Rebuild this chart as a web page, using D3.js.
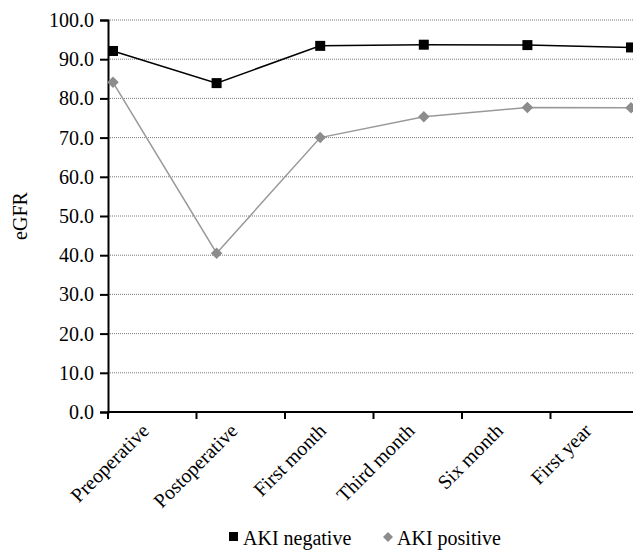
<!DOCTYPE html>
<html lang="en">
<head>
<meta charset="utf-8">
<title>eGFR chart</title>
<script src="https://d3js.org/d3.v7.min.js"></script>
<style>
  body { margin: 0; background: #fff; }
  svg { display: block; }
  svg text { font-family: "Times New Roman", "Liberation Serif", Tinos, "DejaVu Serif", serif; }
</style>
</head>
<body>
<script>
const categories = ["Preoperative", "Postoperative", "First month", "Third month", "Six month", "First year"];
const akiNegative = [92.1, 83.9, 93.4, 93.7, 93.6, 93.0];
const akiPositive = [84.1, 40.5, 70.0, 75.3, 77.7, 77.6];
const yTicks = [0, 10, 20, 30, 40, 50, 60, 70, 80, 90, 100];

const W = 633, H = 552;
const fs = 20;
const svg = d3.select("body").append("svg").attr("width", W).attr("height", H);

const plotLeft = 108, plotTop = 20, plotBottom = 412;

const y = d3.scaleLinear().domain([0, 100]).range([plotBottom, plotTop]);
// category bands (ticks + labels) and the marker positions
const xBand = d3.scaleBand().domain(categories).range([plotLeft, plotLeft + 6 * 88.5]);
const xPt = d3.scalePoint().domain(categories).range([113, 631]);

// gridlines
svg.append("g").selectAll("line")
  .data(yTicks.filter(d => d > 0))
  .join("line")
  .attr("x1", plotLeft).attr("x2", W)
  .attr("y1", d => y(d)).attr("y2", d => y(d))
  .attr("stroke", "#7a7a7a").attr("stroke-width", 1)
  .attr("stroke-dasharray", "1,1");

// y axis
const yAxis = d3.axisLeft(y).tickValues(yTicks).tickFormat(d3.format(".1f")).tickSize(8).tickPadding(6);
const gy = svg.append("g").attr("transform", `translate(${plotLeft},0)`).call(yAxis);
gy.attr("font-family", null).attr("font-size", null);
gy.select(".domain").attr("stroke", "#000").attr("stroke-width", 2);
gy.selectAll(".tick line").attr("stroke", "#000").attr("stroke-width", 2);
gy.selectAll(".tick text").attr("font-size", fs).attr("fill", "#000");

// x axis
svg.append("line").attr("x1", plotLeft - 1).attr("x2", W).attr("y1", plotBottom).attr("y2", plotBottom)
  .attr("stroke", "#000").attr("stroke-width", 2);
svg.append("g").selectAll("line")
  .data(categories)
  .join("line")
  .attr("x1", d => xBand(d)).attr("x2", d => xBand(d))
  .attr("y1", plotBottom).attr("y2", plotBottom + 7)
  .attr("stroke", "#000").attr("stroke-width", 2);
svg.append("g").selectAll("text")
  .data(categories)
  .join("text")
  .attr("transform", d => `translate(${xBand(d) + xBand.bandwidth() / 2 - 2},${plotBottom + 20}) rotate(-45)`)
  .attr("text-anchor", "end")
  .attr("font-size", fs)
  .text(d => d);

// y label
svg.append("text")
  .attr("transform", `translate(27,216) rotate(-90)`)
  .attr("text-anchor", "middle")
  .attr("font-size", fs)
  .text("eGFR");

const plot = svg.append("g");

const line = d3.line().x((d, i) => xPt(categories[i])).y(d => y(d));

plot.append("path").datum(akiPositive)
  .attr("d", line).attr("fill", "none")
  .attr("stroke", "#999").attr("stroke-width", 1.5);
plot.append("path").datum(akiNegative)
  .attr("d", line).attr("fill", "none")
  .attr("stroke", "#000").attr("stroke-width", 1.5);

plot.selectAll(".pos")
  .data(akiPositive)
  .join("path")
  .attr("class", "pos")
  .attr("transform", (d, i) => `translate(${xPt(categories[i])},${y(d)}) rotate(45)`)
  .attr("d", d3.symbol().type(d3.symbolSquare).size(66))
  .attr("fill", "#8c8c8c");

plot.selectAll(".neg")
  .data(akiNegative)
  .join("rect")
  .attr("class", "neg")
  .attr("x", (d, i) => xPt(categories[i]) - 5)
  .attr("y", d => y(d) - 5)
  .attr("width", 10).attr("height", 10)
  .attr("fill", "#000");

// legend
const leg = svg.append("g");
leg.append("rect").attr("x", 229).attr("y", 532).attr("width", 9).attr("height", 9).attr("fill", "#000");
leg.append("text").attr("x", 243).attr("y", 545).attr("font-size", fs).text("AKI negative");
leg.append("path").attr("transform", "translate(388,537) rotate(45)")
  .attr("d", d3.symbol().type(d3.symbolSquare).size(50)).attr("fill", "#8c8c8c");
leg.append("text").attr("x", 397).attr("y", 545).attr("font-size", fs).text("AKI positive");
</script>
</body>
</html>
